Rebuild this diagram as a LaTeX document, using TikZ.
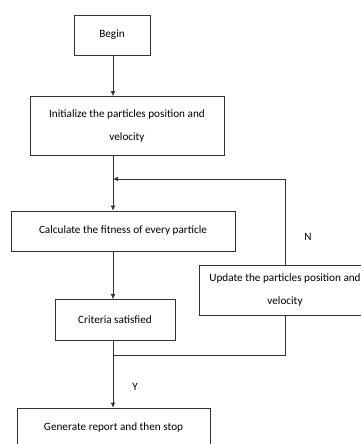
\documentclass[tikz,border=0pt]{standalone}
\usepackage{fontspec}
\setmainfont{Carlito}
\usetikzlibrary{arrows.meta}

\begin{document}
\begin{tikzpicture}[x=1pt, y=-1pt,
    box/.style={draw=black!80, line width=0.6pt, inner sep=0pt, align=center,
        font=\fontsize{11.2}{22.5}\selectfont},
    flow/.style={draw=black!80, line width=0.6pt},
    arr/.style={flow, -{Latex[length=5pt,width=4.5pt]}}]
            \useasboundingbox (0,0) rectangle (360,444);

            \node [box, minimum width=76pt, minimum height=40pt] (begin) at (112,35) {Begin};
            \node [box, minimum width=194pt, minimum height=59pt] (init) at (127,126) {Initialize the particles position and\\velocity};
            \node [box, minimum width=224pt, minimum height=40pt] (calc) at (123,231) {Calculate the fitness of every particle};
            \node [box, minimum width=120pt, minimum height=41pt] (crit) at (115,320) {Criteria satisfied};
            \node [box, minimum width=172pt, minimum height=50pt] (update) at (285,290) {Update the particles position and\\velocity};
            \node [box, minimum width=193pt, minimum height=40pt] (gen) at (113.5,428) {Generate report and then stop};

            \coordinate (merge) at (113,179);
            \coordinate (join) at (113,355);

            \node [font=\fontsize{11.2}{13}\selectfont] (no) at (308,237) {N};
            \node [font=\fontsize{11.2}{13}\selectfont] (yes) at (135,387) {Y};

            \draw [arr] (begin.south -| merge) -- (init.north -| merge);
            \draw [flow] (init.south -| merge) -- (merge);
            \draw [arr] (merge) -- (calc.north -| merge);
            \draw [arr] (calc.south -| merge) -- (crit.north -| merge);
            \draw [arr] (crit.south -| merge) -- (gen.north -| merge);
            \draw [arr] (update.north) |- (merge);
            \draw [flow] (update.south) |- (join);
        \end{tikzpicture}
\end{document}
